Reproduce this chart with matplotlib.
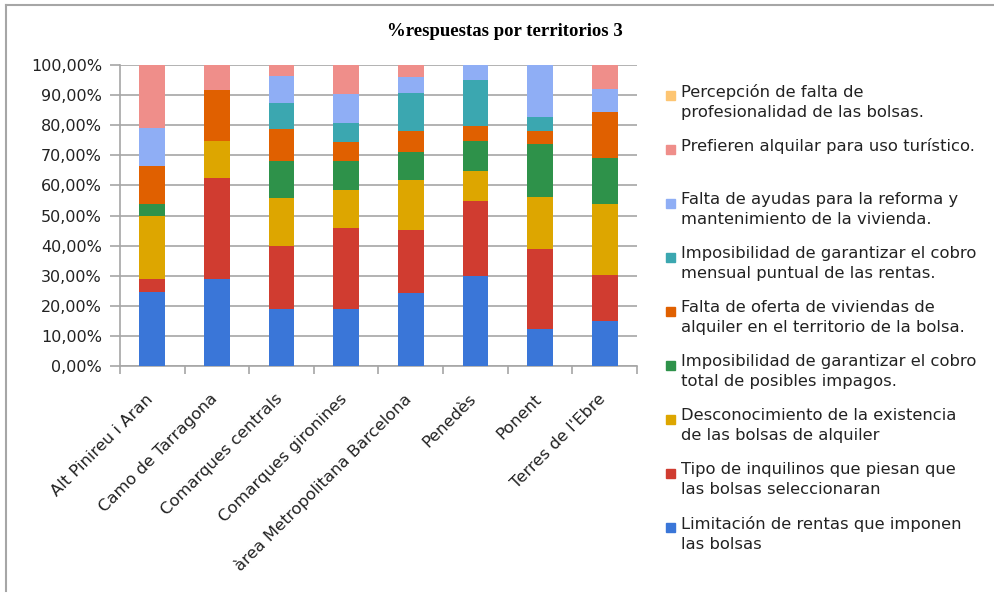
import matplotlib
matplotlib.use("Agg")
import matplotlib.pyplot as plt
import numpy as np
from matplotlib.patches import Rectangle
from matplotlib.ticker import FuncFormatter

categories = ["Alt Pinireu i Aran", "Camo de Tarragona", "Comarques centrals",
              "Comarques gironines", "àrea Metropolitana Barcelona", "Penedès",
              "Ponent", "Terres de l'Ebre"]

# stacked from bottom to top
series_names = [
    "Limitación de rentas que imponen\nlas bolsas",
    "Tipo de inquilinos que piesan que\nlas bolsas seleccionaran",
    "Desconocimiento de la existencia\nde las bolsas de alquiler",
    "Imposibilidad de garantizar el cobro\ntotal de posibles impagos.",
    "Falta de oferta de viviendas de\nalquiler en el territorio de la bolsa.",
    "Imposibilidad de garantizar el cobro\nmensual puntual de las rentas.",
    "Falta de ayudas para la reforma y\nmantenimiento de la vivienda.",
    "Prefieren alquilar para uso turístico.\n",
    "Percepción de falta de\nprofesionalidad de las bolsas.",
]
limitacion   = [24.7, 28.9, 18.9, 18.9, 24.4, 29.8, 12.4, 14.9]
tipo         = [ 4.2, 33.5, 21.0, 26.8, 20.8, 25.0, 26.5, 15.3]
desconoc     = [21.1, 12.5, 15.8, 12.9, 16.7, 10.0, 17.2, 23.5]
impos_total  = [ 3.8,  0.0, 12.5,  9.6,  9.1, 10.0, 17.8, 15.3]
falta_oferta = [12.5, 16.9, 10.6,  6.2,  7.2,  4.9,  4.3, 15.4]
impos_mens   = [ 0.0,  0.0,  8.5,  6.3, 12.5, 15.3,  4.4,  0.0]
falta_ayudas = [12.9,  0.0,  9.1,  9.5,  5.3,  5.0, 17.4,  7.7]
turistico    = [20.8,  8.2,  3.6,  9.8,  4.0,  0.0,  0.0,  7.9]
percepcion   = [ 0.0,  0.0,  0.0,  0.0,  0.0,  0.0,  0.0,  0.0]

series_values = [limitacion, tipo, desconoc, impos_total, falta_oferta,
                 impos_mens, falta_ayudas, turistico, percepcion]
colors = ["#3A76D8", "#D03C30", "#DDA600", "#2E924A", "#E06000",
          "#3BA7B0", "#8FAEF5", "#EF8E8A", "#FDC572"]

W, H = 995, 594
fig = plt.figure(figsize=(W / 100, H / 100), dpi=100)
ax = fig.add_axes([120 / W, (H - 366) / H, 517 / W, 301 / H])

x = np.arange(len(categories))
bottom = np.zeros(len(categories))
for vals, col in zip(series_values, colors):
    v = np.array(vals)
    ax.bar(x, v, bottom=bottom, width=0.4, color=col, zorder=3)
    bottom += v

ax.set_xlim(-0.5, len(categories) - 0.5)
ax.set_ylim(0, 100)
ax.set_yticks(np.arange(0, 101, 10))
ax.yaxis.set_major_formatter(FuncFormatter(lambda v, p: f"{v:.2f}%".replace(".", ",")))
ax.grid(axis="y", color="#A6A6A6", linewidth=1.2, zorder=0)
ax.set_axisbelow(True)
for s in ["top", "right"]:
    ax.spines[s].set_visible(False)
for s in ["left", "bottom"]:
    ax.spines[s].set_color("#A6A6A6")
    ax.spines[s].set_linewidth(1.2)
ax.tick_params(axis="y", length=7, color="#A6A6A6", width=1.2, labelsize=11.5,
               pad=6, labelcolor="#222222")
ax.set_xticks(np.arange(-0.5, len(categories) + 0.5, 1))
ax.tick_params(axis="x", length=6, color="#A6A6A6", width=1.2, labelbottom=False)

for i, cat in enumerate(categories):
    ax.annotate(cat, xy=(i, 0), xycoords="data", xytext=(-1, -22),
                textcoords="offset points", rotation=45, ha="right", va="center",
                rotation_mode="anchor", fontsize=11.8, color="#222222")

fig.text(505 / W, 1 - 31 / H, "%respuestas por territorios 3", ha="center", va="center",
         family="Liberation Serif", fontweight="bold", fontsize=13.5)

# legend, drawn top to bottom
leg_order = list(range(len(series_names)))[::-1]
y0 = 95
for k, idx in enumerate(leg_order):
    yy = y0 + 54 * k
    fig.add_artist(Rectangle((666 / W, 1 - (yy + 5) / H), 9 / W, 9 / H,
                             transform=fig.transFigure, color=colors[idx]))
    fig.text(681 / W, 1 - (yy - 11) / H, series_names[idx], ha="left", va="top",
             fontsize=11.8, color="#222222", linespacing=1.38)

# outer frame
fig.add_artist(plt.Line2D([6 / W, 1], [1 - 5 / H, 1 - 5 / H], transform=fig.transFigure,
                          color="#A6A6A6", linewidth=1.5))
fig.add_artist(plt.Line2D([6 / W, 6 / W], [1 - 5 / H, 1 - 591 / H], transform=fig.transFigure,
                          color="#A6A6A6", linewidth=1.5))

fig.savefig("out.png", dpi=100)
